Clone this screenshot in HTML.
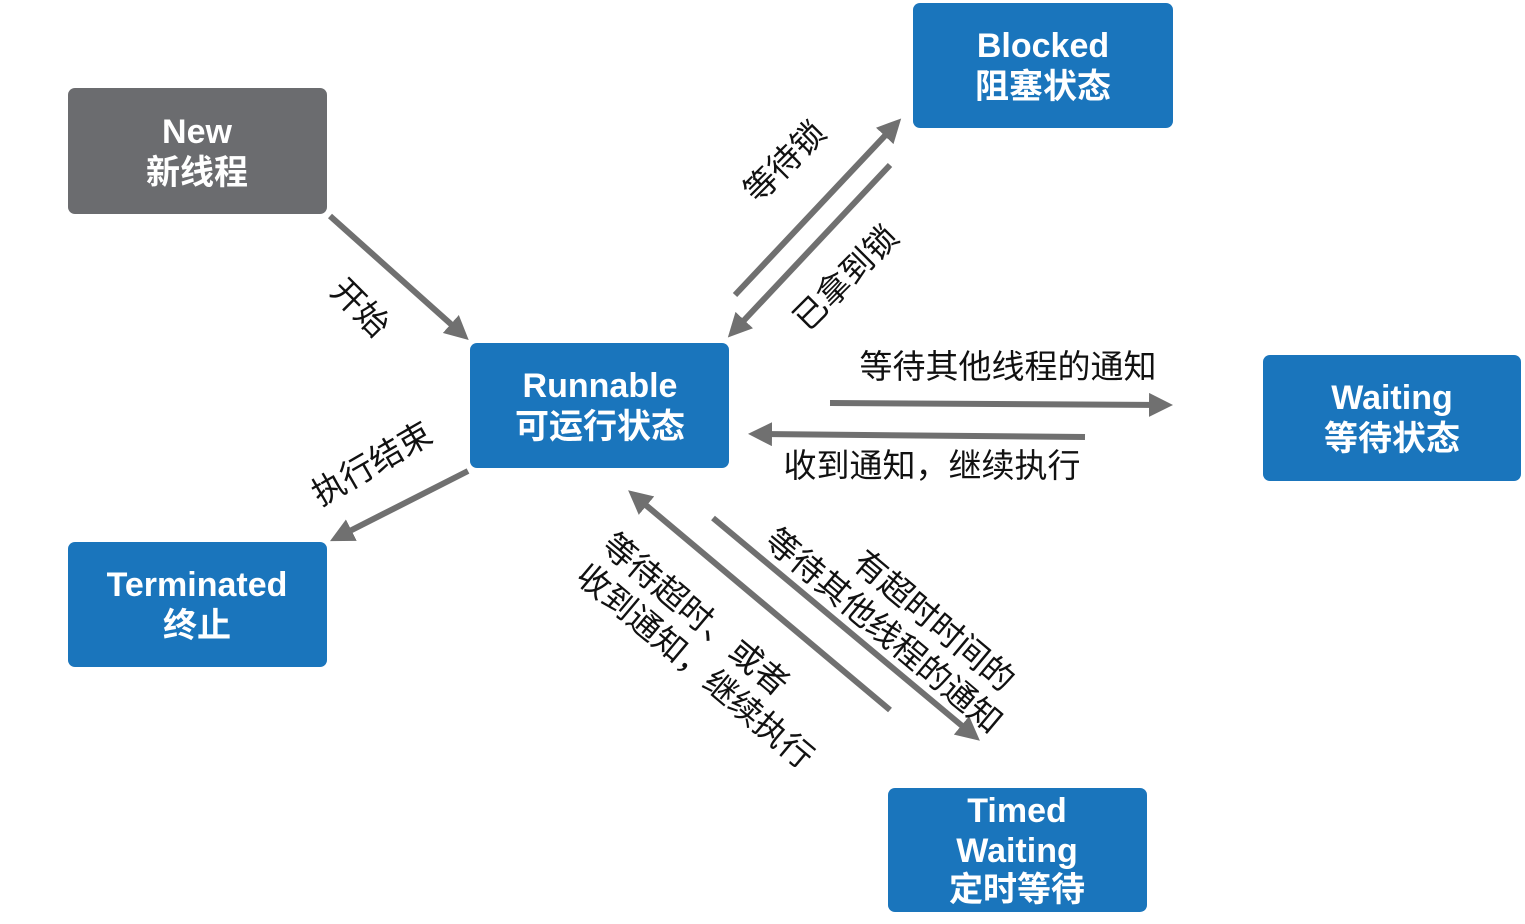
<!DOCTYPE html>
<html><head><meta charset="utf-8"><style>
body{margin:0;background:#fff}
svg text{font-family:"Liberation Sans","Noto Sans CJK SC",sans-serif}
.b{fill:#fff;font-weight:bold;font-size:34px;text-anchor:middle}
.l{fill:#111;font-size:33px}
</style></head><body>
<svg width="1525" height="919" viewBox="0 0 1525 919">
<defs><marker id="a" markerWidth="4" markerHeight="4" refX="2.5" refY="2" orient="auto" markerUnits="strokeWidth"><path d="M0,0 L4,2 L0,4 z" fill="#707070"/></marker></defs>
<g>
<rect x="68" y="88" width="259" height="126" rx="7" fill="#6b6c6f"/>
<rect x="913" y="3" width="260" height="125" rx="7" fill="#1a75bc"/>
<rect x="470" y="343" width="259" height="125" rx="7" fill="#1a75bc"/>
<rect x="1263" y="355" width="258" height="126" rx="7" fill="#1a75bc"/>
<rect x="68" y="542" width="259" height="125" rx="7" fill="#1a75bc"/>
<rect x="888" y="788" width="259" height="124" rx="7" fill="#1a75bc"/>
</g>
<text class="b" x="197" y="143">New</text><text class="b" x="197" y="184">新线程</text>
<text class="b" x="1043" y="57">Blocked</text><text class="b" x="1043" y="98">阻塞状态</text>
<text class="b" x="600" y="397">Runnable</text><text class="b" x="600" y="438">可运行状态</text>
<text class="b" x="1392" y="409">Waiting</text><text class="b" x="1392" y="450">等待状态</text>
<text class="b" x="197" y="596">Terminated</text><text class="b" x="197" y="637">终止</text>
<text class="b" x="1017" y="822">Timed</text><text class="b" x="1017" y="862">Waiting</text><text class="b" x="1017" y="901">定时等待</text>
<g stroke="#707070" stroke-width="6" fill="none" marker-end="url(#a)">
<line x1="330" y1="216" x2="462" y2="334"/>
<line x1="735" y1="295" x2="895" y2="125"/>
<line x1="890" y1="165" x2="734" y2="331"/>
<line x1="830" y1="403" x2="1164" y2="405"/>
<line x1="1085" y1="437" x2="757" y2="434"/>
<line x1="468" y1="471" x2="338" y2="537"/>
<line x1="890" y1="710" x2="635" y2="496"/>
<line x1="713" y1="518" x2="973" y2="735"/>
</g>
<text class="l" transform="translate(360,308) rotate(45)" text-anchor="middle" dy="11">开始</text>
<text class="l" transform="translate(785,162) rotate(-45)" text-anchor="middle" dy="11">等待锁</text>
<text class="l" transform="translate(846,278) rotate(-45)" text-anchor="middle" dy="11">已拿到锁</text>
<text class="l" x="1008" y="378" text-anchor="middle">等待其他线程的通知</text>
<text class="l" x="932" y="477" text-anchor="middle">收到通知，继续执行</text>
<text class="l" transform="translate(372,464) rotate(-30)" text-anchor="middle" dy="11">执行结束</text>
<g transform="translate(897,615) rotate(40)">
<text class="l" x="0" y="-8" text-anchor="middle" dx="32">有超时时间的</text>
<text class="l" x="0" y="32" text-anchor="middle">等待其他线程的通知</text>
</g>
<g transform="translate(708,650) rotate(40)">
<text class="l" x="-148" y="-8">等待超时、或者</text>
<text class="l" x="-148" y="32">收到通知，继续执行</text>
</g>
</svg>
</body></html>
